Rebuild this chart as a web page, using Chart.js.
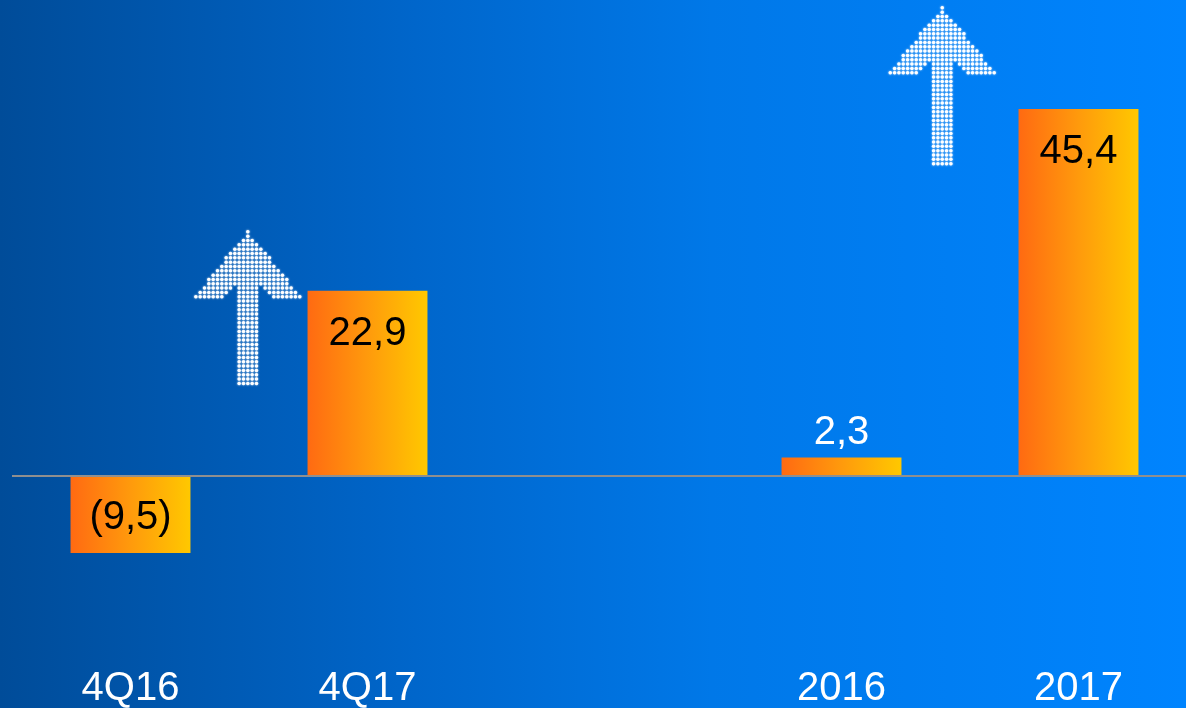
<!DOCTYPE html>
<html>
<head>
<meta charset="utf-8">
<script src="https://cdn.jsdelivr.net/npm/chart.js@4.4.1/dist/chart.umd.min.js"></script>
<style>
  html, body { margin: 0; padding: 0; overflow: hidden; }
  body {
    width: 1186px; height: 708px;
    background: linear-gradient(90deg, #004c99 0%, #0066cb 35%, #0078e8 60%, #0084fe 100%);
  }
  #wrap { width: 1200px; height: 708px; }
</style>
</head>
<body>
<div id="wrap"><canvas id="myChart" width="1200" height="708"></canvas></div>
<script>
// chart data
const categories = ["4Q16", "4Q17", "", "2016", "2017"];
const values = [-9.5, 22.9, null, 2.3, 45.4];

// format like the slide: comma decimals, negatives in brackets
function fmt(v) {
    let s = Math.abs(v).toFixed(1).replace(".", ",");
    return v < 0 ? "(" + s + ")" : s;
}

const FONT = "'Liberation Sans', Arial, sans-serif";

// orange -> yellow fill across each bar
function barFill(ctx) {
    const chart = ctx.chart;
    const x = chart.scales.x;
    if (!x || !chart.chartArea || ctx.dataIndex === undefined) return "#ff9a0a";
    const center = x.getPixelForValue(ctx.dataIndex);
    const half = (x.width / categories.length) * 0.506 / 2;
    const g = chart.ctx.createLinearGradient(center - half, 0, center + half, 0);
    g.addColorStop(0, "#ff6a12");
    g.addColorStop(0.5, "#ff9a0c");
    g.addColorStop(1, "#ffc800");
    return g;
}

// labels in / above the bars
const valueLabels = {
    id: "valueLabels",
    afterDatasetsDraw(chart) {
        const ctx = chart.ctx;
        const meta = chart.getDatasetMeta(0);
        ctx.save();
        ctx.font = "40px " + FONT;
        ctx.textAlign = "center";
        ctx.textBaseline = "middle";
        meta.data.forEach((bar, i) => {
            const v = values[i];
            if (v === null) return;
            const top = Math.min(bar.y, bar.base);
            const bottom = Math.max(bar.y, bar.base);
            let y, color = "#000";
            if (v < 0) {
                y = (top + bottom) / 2 + 3;
            } else if (bottom - top < 60) {
                y = top - 25;
                color = "#fff";
            } else {
                y = top + 43;
            }
            ctx.fillStyle = color;
            ctx.fillText(fmt(v), bar.x, y);
        });
        ctx.restore();
    }
};

// dotted up-arrows (decoration)
function inPoly(px, py, poly) {
    let inside = false;
    for (let i = 0, j = poly.length - 1; i < poly.length; j = i++) {
        const xi = poly[i][0], yi = poly[i][1], xj = poly[j][0], yj = poly[j][1];
        if (((yi > py) !== (yj > py)) && (px < (xj - xi) * (py - yi) / (yj - yi) + xi)) inside = !inside;
    }
    return inside;
}

const arrowDots = {
    id: "arrowDots",
    afterDraw(chart) {
        const ctx = chart.ctx;
        const xs = chart.scales.x, ys = chart.scales.y;
        const list = [{ at: 0.495, from: 11.2, to: 30.2 }, { at: 3.425, from: 38.6, to: 57.9 }];
        const step = 4.33;
        ctx.save();
        ctx.fillStyle = "#ffffff";
        ctx.shadowColor = "rgba(255,255,255,0.9)";
        ctx.shadowBlur = 2;
        list.forEach(a => {
            const cx = xs.getPixelForValue(a.at);
            const tip = ys.getPixelForValue(a.to);
            const end = ys.getPixelForValue(a.from);
            const poly = [
                [cx, tip - 1],
                [cx + 54, tip + 66],
                [cx + 25, tip + 66],
                [cx + 12, tip + 52],
                [cx + 12, end + 1],
                [cx - 12, end + 1],
                [cx - 12, tip + 52],
                [cx - 25, tip + 66],
                [cx - 54, tip + 66]
            ];
            for (let y = tip; y <= end + 0.5; y += step) {
                for (let k = -13; k <= 13; k++) {
                    const x = cx + k * step;
                    if (inPoly(x, y, poly)) {
                        ctx.beginPath();
                        ctx.arc(x, y, 1.75, 0, Math.PI * 2);
                        ctx.fill();
                    }
                }
            }
        });
        ctx.restore();
    }
};

new Chart("myChart", {
    type: "bar",
    data: {
        labels: categories,
        datasets: [{
            data: values,
            backgroundColor: barFill,
            borderWidth: 0,
            categoryPercentage: 1,
            barPercentage: 0.506
        }]
    },
    options: {
        responsive: false,
        animation: false,
        layout: { padding: { left: 12, right: 3, top: 7, bottom: 0 } },
        plugins: {
            legend: { display: false },
            tooltip: { enabled: false }
        },
        scales: {
            x: {
                grid: { display: false },
                border: { display: false },
                afterFit(s) { s.height = 54; },
                ticks: {
                    color: "#fff",
                    font: { family: FONT, size: 40 },
                    padding: 3,
                    maxRotation: 0
                }
            },
            y: {
                min: -22,
                max: 58,
                border: { display: false },
                ticks: { display: false, stepSize: 1 },
                grid: {
                    drawTicks: false,
                    lineWidth: 2,
                    color: c => (c.tick && c.tick.value === 0 ? "#8f8f8f" : "rgba(0,0,0,0)")
                }
            }
        }
    },
    plugins: [valueLabels, arrowDots]
});
</script>
</body>
</html>
